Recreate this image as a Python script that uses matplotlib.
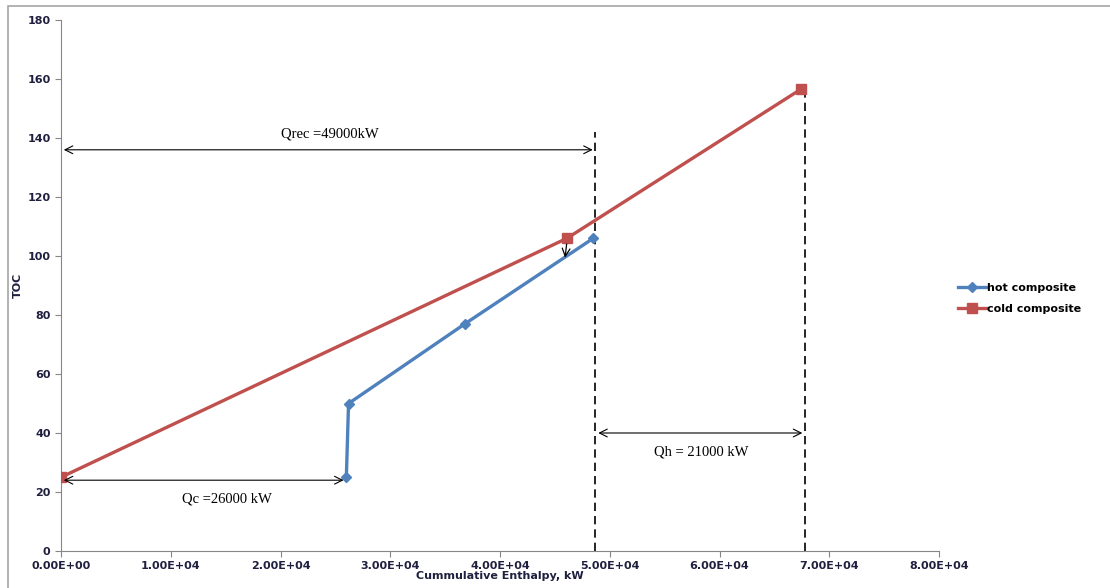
import matplotlib
matplotlib.use("Agg")
import matplotlib.pyplot as plt
from matplotlib.patches import Rectangle

hot_x = [26000, 26200, 36800, 48500]
hot_y = [25, 50, 77, 106]
cold_x = [0, 46100, 67400]
cold_y = [25, 106, 156.5]

x_ticks = [0, 10000, 20000, 30000, 40000, 50000, 60000, 70000, 80000]
x_tick_labels = ["0.00E+00", "1.00E+04", "2.00E+04", "3.00E+04", "4.00E+04",
                 "5.00E+04", "6.00E+04", "7.00E+04", "8.00E+04"]
y_ticks = [0, 20, 40, 60, 80, 100, 120, 140, 160, 180]

q_rec_x = 48700
q_h_x = 67800

fig = plt.figure(figsize=(11.1, 5.88), dpi=100)
fig.patches.append(Rectangle((8/1110, -0.05), 1.2, 1 - 6/588 + 0.05, transform=fig.transFigure,
                             fill=False, edgecolor="#a6a6a6", linewidth=1.2))
ax = fig.add_axes([61/1110, 37/588, (939-61)/1110, (551-20)/588])

ax.plot(hot_x, hot_y, color="#4F81BD", lw=2.4, marker="D", ms=5, label="hot composite", zorder=3)
ax.plot(cold_x, cold_y, color="#C0504D", lw=2.4, marker="s", ms=7, label="cold composite", zorder=3)

# dashed verticals
ax.plot([q_rec_x, q_rec_x], [0, 142], color="black", lw=1.2, ls=(0, (5, 3)), zorder=2)
ax.plot([q_h_x, q_h_x], [0, 156], color="black", lw=1.2, ls=(0, (5, 3)), zorder=2)

arrow = dict(arrowstyle="<->", color="black", lw=0.8, mutation_scale=14)
ax.annotate("", xy=(0, 136), xytext=(q_rec_x, 136), arrowprops=arrow)
ax.annotate("", xy=(0, 24), xytext=(26000, 24), arrowprops=arrow)
ax.annotate("", xy=(q_rec_x, 40), xytext=(q_h_x, 40), arrowprops=arrow)
ax.annotate("", xy=(45900, 98.5), xytext=(46100, 105),
            arrowprops=dict(arrowstyle="->", color="black", lw=0.9, mutation_scale=14))

tf = dict(family="Liberation Serif", fontsize=10.5, color="black", ha="center", va="center")
ax.text(24500, 141.5, "Qrec =49000kW", **tf)
ax.text(15100, 17.5, "Qc =26000 kW", **tf)
ax.text(58300, 33.5, "Qh = 21000 kW", **tf)

ax.set_xlim(0, 80000)
ax.set_ylim(0, 180)
ax.set_xticks(x_ticks)
ax.set_xticklabels(x_tick_labels)
ax.set_yticks(y_ticks)
for s in ["top", "right"]:
    ax.spines[s].set_visible(False)
for s in ["left", "bottom"]:
    ax.spines[s].set_color("#868686")
ax.tick_params(axis="both", colors="#868686", labelcolor="#1f1f3f", labelsize=8, length=4)
for lab in ax.get_xticklabels() + ax.get_yticklabels():
    lab.set_fontweight("bold")
ax.set_xlabel("Cummulative Enthalpy, kW", fontsize=8, fontweight="bold", color="#1f1f3f", labelpad=0)
ax.set_ylabel("TOC", fontsize=8, fontweight="bold", color="#1f1f3f", labelpad=3)

ax.legend(loc="center left", bbox_to_anchor=(1.01, 0.476), frameon=False,
          handlelength=2.5, handletextpad=0.1, labelspacing=1.0,
          prop=dict(weight="bold", size=8))

fig.savefig("out.png", dpi=100)
